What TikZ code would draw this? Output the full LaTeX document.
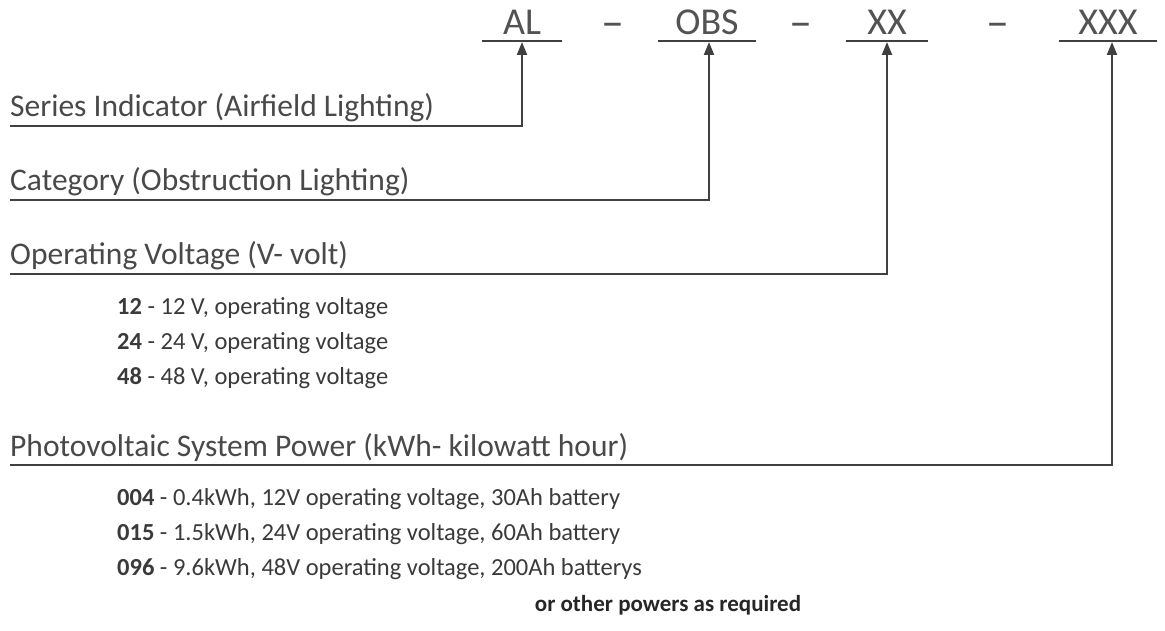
\documentclass[tikz,border=0pt]{standalone}
\usepackage{fontspec}
\setmainfont{Carlito}
\usetikzlibrary{arrows.meta}
\definecolor{codegray}{HTML}{404040}
\definecolor{itemgray}{HTML}{3A3A3A}

\begin{document}
\begin{tikzpicture}[
    x=1pt, y=-1pt,
    codetext/.style={font=\fontsize{38}{40}\selectfont, text=codegray!90, inner sep=0pt, anchor=base},
    dashtext/.style={font=\fontsize{46}{48}\selectfont, text=codegray!90, inner sep=0pt, anchor=base},
    headtext/.style={font=\fontsize{31.5}{34}\selectfont, text=codegray!95, inner sep=0pt, anchor=base west},
    itemtext/.style={font=\fontsize{24.5}{26}\selectfont, text=itemgray, inner sep=0pt, anchor=west},
    codeline/.style={draw=codegray, line width=2pt},
    codelink/.style={draw=codegray, line width=2.2pt, -{Triangle[length=13pt,width=10pt]}}
]
  \useasboundingbox (0,0) rectangle (1165,631);

  % part number
  \node[codetext, minimum width=80] (al) at (522,35) {AL};
  \node[dashtext] (d1) at (613,38) {–};
  \node[codetext, minimum width=97] (obs) at (707,35) {OBS};
  \node[dashtext] (d2) at (801,38) {–};
  \node[codetext, minimum width=81] (xx) at (887,35) {XX};
  \node[dashtext] (d3) at (998,38) {–};
  \node[codetext, minimum width=97] (xxx) at (1108,35) {XXX};
  \foreach \c in {al,obs,xx,xxx}
    \draw[codeline] ([yshift=-6]\c.base west) -- ([yshift=-6]\c.base east);

  % headings
  \node[headtext] (series) at (10,117) {Series Indicator (Airfield Lighting)};
  \node[headtext] (categ) at (10,191) {Category (Obstruction Lighting)};
  \node[headtext] (volt) at (10,265) {Operating Voltage (V- volt)};
  \node[headtext] (power) at (10,456) {Photovoltaic System Power (kWh- kilowatt hour)};

  \draw[codelink] ([yshift=-9]series.base west) -| ([yshift=-7]al.base);
  \draw[codelink] ([yshift=-9]categ.base west) -| ([yshift=-7,xshift=2]obs.base);
  \draw[codelink] ([yshift=-9]volt.base west) -| ([yshift=-7]xx.base);
  \draw[codelink] ([yshift=-9]power.base west) -| ([yshift=-7,xshift=4]xxx.base);

  % voltage options
  \node[itemtext] (v12) at (117,308) {\textbf{12} - 12 V, operating voltage};
  \node[itemtext] (v24) at (117,343) {\textbf{24} - 24 V, operating voltage};
  \node[itemtext] (v48) at (117,378) {\textbf{48} - 48 V, operating voltage};

  % power options
  \node[itemtext] (p004) at (117,499) {\textbf{004} - 0.4kWh, 12V operating voltage, 30Ah battery};
  \node[itemtext] (p015) at (117,534) {\textbf{015} - 1.5kWh, 24V operating voltage, 60Ah battery};
  \node[itemtext] (p096) at (117,569) {\textbf{096} - 9.6kWh, 48V operating voltage, 200Ah batterys};
  \node[itemtext, anchor=center, font=\fontsize{23}{25}\selectfont\bfseries, text=black!85] (other) at (668,605) {or other powers as required};
\end{tikzpicture}
\end{document}
